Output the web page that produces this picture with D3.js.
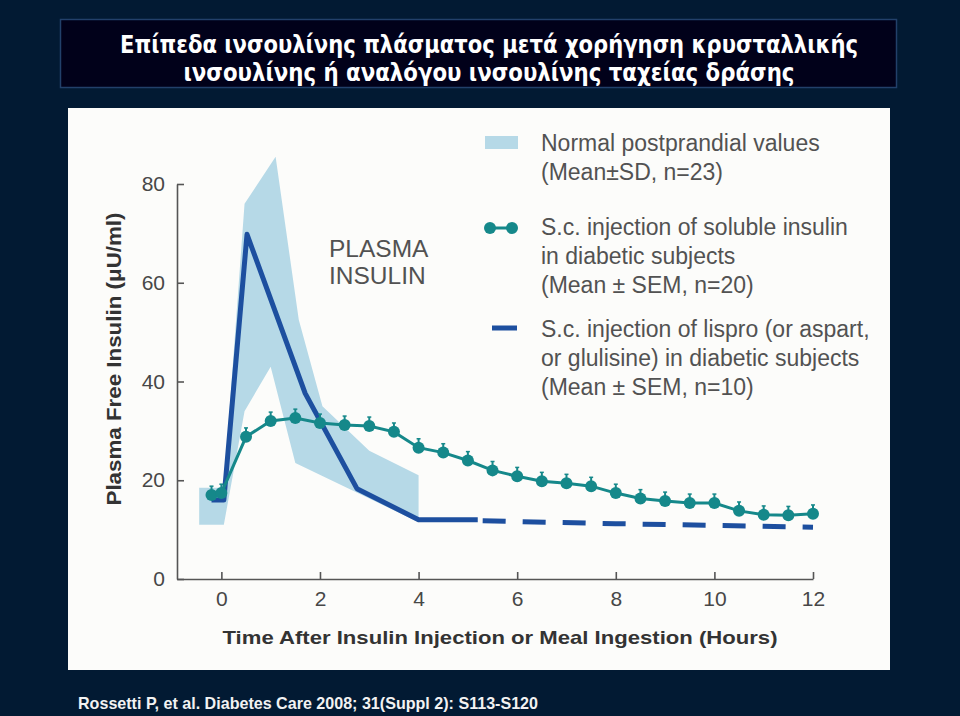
<!DOCTYPE html>
<html>
<head>
<meta charset="utf-8">
<script src="https://cdn.jsdelivr.net/npm/d3@7"></script>
<style>
  html, body { margin: 0; padding: 0; background: #021a33; }
  svg { display: block; }
</style>
</head>
<body>
<svg id="chart" width="960" height="716"></svg>
<script>
// ---------- DATA ----------
const titleLines = [
  "Επίπεδα ινσουλίνης πλάσματος μετά χορήγηση κρυσταλλικής",
  "ινσουλίνης ή αναλόγου ινσουλίνης ταχείας δράσης"
];
const sourceText = "Rossetti P, et al. Diabetes Care 2008; 31(Suppl 2): S113-S120";
const xTicks = [0, 2, 4, 6, 8, 10, 12];
const yTicks = [0, 20, 40, 60, 80];
const xTitle = "Time After Insulin Injection or Meal Ingestion (Hours)";
const yTitle = "Plasma Free Insulin (μU/ml)";
const panelLabel = ["PLASMA", "INSULIN"];

// Normal postprandial values (Mean ± SD) band
const bandUpper = [[-0.45, 18.5], [0.05, 18.5], [0.47, 76], [1.1, 85.5], [1.57, 52.5], [2.05, 35], [3.0, 26], [4.0, 21]];
const bandLower = [[-0.45, 11], [0.05, 11], [0.47, 34], [1.0, 43], [1.5, 23.5], [4.0, 11.5]];

// Soluble insulin (Mean ± SEM)
const solubleTime = [-0.2, 0, 0.5, 1, 1.5, 2, 2.5, 3, 3.5, 4, 4.5, 5, 5.5, 6, 6.5, 7, 7.5, 8, 8.5, 9, 9.5, 10, 10.5, 11, 11.5, 12];
const solubleMean = [17, 17.4, 28.8, 32, 32.6, 31.6, 31.2, 31, 29.8, 26.6, 25.6, 24, 22, 20.8, 19.8, 19.4, 18.8, 17.4, 16.3, 15.8, 15.4, 15.4, 13.8, 13, 12.9, 13.2];
const solubleSem  = [1.8, 1.8, 1.8, 1.8, 1.8, 1.8, 1.8, 1.8, 1.8, 1.8, 1.8, 1.8, 1.8, 1.8, 1.8, 1.8, 1.8, 1.8, 1.8, 1.8, 1.8, 1.8, 1.8, 1.8, 1.8, 1.8];

// Lispro / aspart / glulisine
const lisproSolid  = [[-0.2, 16], [0.05, 16], [0.52, 69.8], [1.7, 37.6], [2.75, 18.3], [4.0, 12], [5.2, 12]];
const lisproDashed = [[5.3, 11.8], [8, 11.2], [12, 10.5]];

const legendItems = [
  {type: "band",   lines: ["Normal postprandial values", "(Mean±SD, n=23)"]},
  {type: "dots",   lines: ["S.c. injection of soluble insulin", "in diabetic subjects", "(Mean ± SEM, n=20)"]},
  {type: "dash",   lines: ["S.c. injection of lispro (or aspart,", "or glulisine) in diabetic subjects", "(Mean ± SEM, n=10)"]}
];

// ---------- STYLE ----------
const C = {
  bg: "#021a33", titleBox: "#01011a", titleBorder: "#22406a",
  panel: "#fcfcfa", band: "#b6d9e7", teal: "#15888a", blue: "#1d4f9f",
  axis: "#555555", tickText: "#474747", text: "#525252", axisTitle: "#333333"
};
const FONT = "'Liberation Sans', Arial, sans-serif";

const svg = d3.select("#chart");

svg.append("rect").attr("x", 0).attr("y", 0).attr("width", 960).attr("height", 716).attr("fill", C.bg);

// title box
svg.append("rect").attr("x", 60.5).attr("y", 19.5).attr("width", 836).attr("height", 68)
  .attr("fill", C.titleBox).attr("stroke", C.titleBorder).attr("stroke-width", 1.5);
const titleLens = [738, 611];
const titleBase = [53, 81];
titleLines.forEach((t, i) => {
  svg.append("text").attr("x", 489).attr("y", titleBase[i]).attr("text-anchor", "middle")
    .attr("font-family", "'DejaVu Sans Condensed', 'DejaVu Sans', sans-serif").attr("font-weight", "bold")
    .attr("font-size", 24).attr("fill", "#ffffff")
    .attr("textLength", titleLens[i]).attr("lengthAdjust", "spacingAndGlyphs")
    .text(t);
});

// white panel (figure image area)
svg.append("rect").attr("x", 68).attr("y", 108).attr("width", 822).attr("height", 562).attr("fill", C.panel);

// source
svg.append("text").attr("x", 78).attr("y", 709).attr("font-family", FONT).attr("font-weight", "bold")
  .attr("font-size", 17).attr("fill", "#f2f2f2")
  .attr("textLength", 460).attr("lengthAdjust", "spacingAndGlyphs").text(sourceText);

// ---------- SCALES ----------
const x = d3.scaleLinear().domain([-0.9, 12]).range([177, 813]);
const y = d3.scaleLinear().domain([0, 80]).range([579, 184]);

// band
const bandPoly = bandUpper.concat(bandLower.slice().reverse());
svg.append("path")
  .attr("d", d3.line().x(d => x(d[0])).y(d => y(d[1]))(bandPoly) + "Z")
  .attr("fill", C.band).attr("stroke", "none");

// axes
const xAxis = d3.axisBottom(x).tickValues(xTicks).tickSizeInner(-7).tickSizeOuter(0).tickPadding(12);
const yAxis = d3.axisLeft(y).tickValues(yTicks).tickSizeInner(-7).tickSizeOuter(0).tickPadding(12);

const gx = svg.append("g").attr("transform", `translate(0,${y(0)})`).call(xAxis);
const gy = svg.append("g").attr("transform", `translate(${x(-0.9)},0)`).call(yAxis);
[gx, gy].forEach(g => {
  g.select(".domain").attr("stroke", C.axis).attr("stroke-width", 1.6);
  g.selectAll(".tick line").attr("stroke", C.axis).attr("stroke-width", 1.6);
  g.selectAll(".tick text").attr("font-family", FONT).attr("font-size", 21).attr("fill", C.tickText);
});

// axis titles
svg.append("text").attr("x", 500).attr("y", 644).attr("text-anchor", "middle")
  .attr("font-family", FONT).attr("font-weight", "bold").attr("font-size", 19).attr("fill", C.axisTitle)
  .attr("textLength", 555).attr("lengthAdjust", "spacingAndGlyphs").text(xTitle);
svg.append("text").attr("transform", "translate(121,359) rotate(-90)").attr("text-anchor", "middle")
  .attr("font-family", FONT).attr("font-weight", "bold").attr("font-size", 20).attr("fill", C.axisTitle)
  .attr("textLength", 293).attr("lengthAdjust", "spacingAndGlyphs").text(yTitle);

// panel label
panelLabel.forEach((t, i) => {
  svg.append("text").attr("x", 329).attr("y", 257 + i * 27).attr("font-family", FONT)
    .attr("font-size", 24.5).attr("fill", C.text).text(t);
});

// lispro line
const line = d3.line().x(d => x(d[0])).y(d => y(d[1]));
svg.append("path").attr("d", line(lisproSolid)).attr("fill", "none")
  .attr("stroke", C.blue).attr("stroke-width", 5).attr("stroke-linejoin", "round");
svg.append("path").attr("d", line(lisproDashed)).attr("fill", "none")
  .attr("stroke", C.blue).attr("stroke-width", 5).attr("stroke-dasharray", "23,17");

// soluble line
const soluble = solubleTime.map((t, i) => ({t, m: solubleMean[i], s: solubleSem[i]}));
svg.append("path").attr("d", d3.line().x(d => x(d.t)).y(d => y(d.m))(soluble))
  .attr("fill", "none").attr("stroke", C.teal).attr("stroke-width", 3);
const eb = svg.append("g");
soluble.forEach(d => {
  eb.append("line").attr("x1", x(d.t)).attr("x2", x(d.t)).attr("y1", y(d.m)).attr("y2", y(d.m + d.s))
    .attr("stroke", C.teal).attr("stroke-width", 2);
  eb.append("line").attr("x1", x(d.t) - 2).attr("x2", x(d.t) + 2).attr("y1", y(d.m + d.s)).attr("y2", y(d.m + d.s))
    .attr("stroke", C.teal).attr("stroke-width", 1.5);
});
svg.append("g").selectAll("circle").data(soluble).join("circle")
  .attr("cx", d => x(d.t)).attr("cy", d => y(d.m)).attr("r", 6).attr("fill", C.teal);

// ---------- LEGEND ----------
const lg = svg.append("g");
const legBase = [151, 235, 337];
legendItems.forEach((it, i) => {
  const b = legBase[i];
  if (it.type === "band") {
    lg.append("rect").attr("x", 485).attr("y", b - 15).attr("width", 33).attr("height", 13).attr("fill", C.band);
  } else if (it.type === "dots") {
    lg.append("line").attr("x1", 490).attr("x2", 512).attr("y1", b - 7).attr("y2", b - 7)
      .attr("stroke", C.teal).attr("stroke-width", 3);
    [490, 512].forEach(cx => lg.append("circle").attr("cx", cx).attr("cy", b - 7).attr("r", 6).attr("fill", C.teal));
  } else {
    lg.append("line").attr("x1", 492).attr("x2", 517).attr("y1", b - 9).attr("y2", b - 9)
      .attr("stroke", C.blue).attr("stroke-width", 5);
  }
  it.lines.forEach((t, j) => {
    lg.append("text").attr("x", 541).attr("y", b + j * 29).attr("font-family", FONT)
      .attr("font-size", 23).attr("fill", C.text).text(t);
  });
});
</script>
</body>
</html>
